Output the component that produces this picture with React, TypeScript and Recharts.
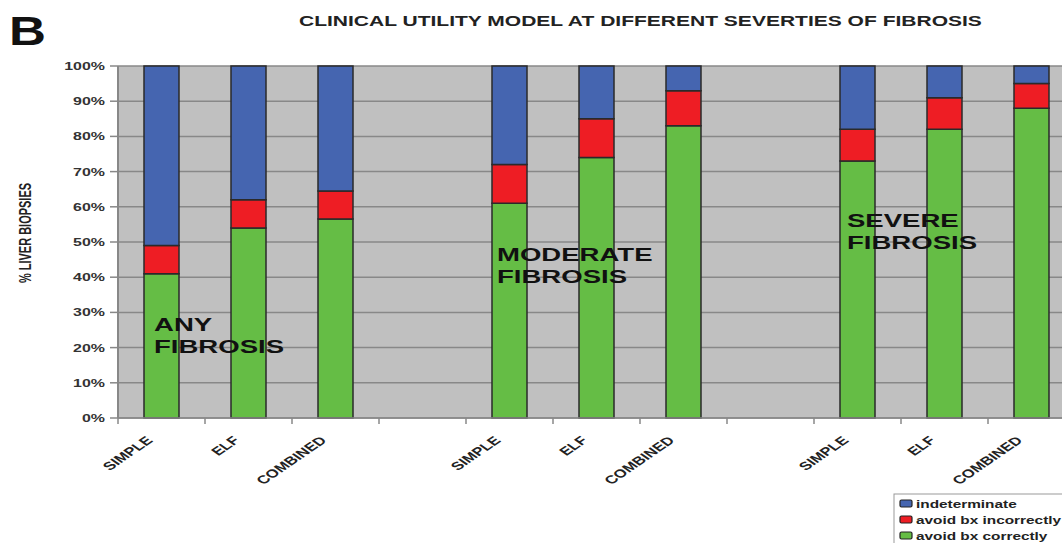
import { BarChart, Bar, XAxis, YAxis, CartesianGrid } from 'recharts';

// categories (blank slots separate the three fibrosis groups)
const categories = ['SIMPLE', 'ELF', 'COMBINED', '', 'SIMPLE', 'ELF', 'COMBINED', '', 'SIMPLE', 'ELF', 'COMBINED'];
const avoidCorrect = [41, 54, 56.5, null, 61, 74, 83, null, 73, 82, 88];
const avoidIncorrect = [8, 8, 8, null, 11, 11, 10, null, 9, 9, 7];
const indeterminate = [51, 38, 35.5, null, 28, 15, 7, null, 18, 9, 5];
const yTicks = [0, 10, 20, 30, 40, 50, 60, 70, 80, 90, 100];

const groupLabels = [
  { lines: ['ANY', 'FIBROSIS'], x: 154, y: 331 },
  { lines: ['MODERATE', 'FIBROSIS'], x: 497, y: 261 },
  { lines: ['SEVERE', 'FIBROSIS'], x: 847, y: 227 },
];

const series = [
  { key: 'indeterminate', name: 'indeterminate', color: '#4565b0' },
  { key: 'incorrect', name: 'avoid bx incorrectly', color: '#ee1d24' },
  { key: 'correct', name: 'avoid bx correctly', color: '#65bd45' },
];

const data = categories.map((c, i) => ({
  cat: c,
  correct: avoidCorrect[i],
  incorrect: avoidIncorrect[i],
  indeterminate: indeterminate[i],
}));

const FONT = '"Liberation Sans", Arial, sans-serif';
const STRETCH = 1.45; // the source figure is stretched sideways
const HALF_BAND = 43.5;

function SText({ x, y, size, anchor = 'start', rotate = 0, sx = STRETCH, fill = '#222', children }: any) {
  return (
    <text
      transform={`translate(${x},${y}) scale(${sx},1)${rotate ? ` rotate(${rotate})` : ''}`}
      fontFamily={FONT}
      fontWeight="bold"
      fontSize={size}
      textAnchor={anchor}
      fill={fill}
    >
      {children}
    </text>
  );
}

const YTick = ({ x, y, payload }: any) => (
  <SText x={x} y={y + 4} anchor="end" size={11} fill="#333">
    {payload.value}%
  </SText>
);

const XTick = ({ x, payload }: any) => (
  <g>
    <line x1={x - HALF_BAND} x2={x - HALF_BAND} y1={418} y2={424} stroke="#888" strokeWidth={1.5} />
    {payload.value && (
      <SText x={x - 8} y={441} rotate={-45} anchor="end" size={11.5} fill="#222">
        {payload.value}
      </SText>
    )}
  </g>
);

export default function App() {
  return (
    <div style={{ position: 'fixed', left: 0, top: 0, width: 1062, height: 543, overflow: 'hidden', background: '#fff' }}>
      <BarChart width={1075} height={543} data={data} margin={{ top: 66, right: 0, left: 0, bottom: 85 }}>
        <CartesianGrid vertical={false} fill="#c0c0c0" stroke="#888" strokeWidth={1.5} />
        <XAxis
          dataKey="cat"
          height={40}
          interval={0}
          tickLine={false}
          axisLine={{ stroke: '#888', strokeWidth: 1.5 }}
          tick={<XTick />}
        />
        <YAxis
          width={118}
          domain={[0, 100]}
          ticks={yTicks}
          tickSize={8}
          tickMargin={5}
          axisLine={{ stroke: '#888', strokeWidth: 2 }}
          tickLine={{ stroke: '#888', strokeWidth: 1.5 }}
          tick={<YTick />}
        />
        <Bar dataKey="correct" stackId="a" fill="#65bd45" stroke="#2a2a2a" strokeWidth={1.5} barSize={35} isAnimationActive={false} />
        <Bar dataKey="incorrect" stackId="a" fill="#ee1d24" stroke="#2a2a2a" strokeWidth={1.5} barSize={35} isAnimationActive={false} />
        <Bar dataKey="indeterminate" stackId="a" fill="#4565b0" stroke="#2a2a2a" strokeWidth={1.5} barSize={35} isAnimationActive={false} />
      </BarChart>

      <svg width={1062} height={543} style={{ position: 'absolute', left: 0, top: 0, pointerEvents: 'none' }}>
        <SText x={9} y={45} size={40} sx={1.28} fill="#111">B</SText>
        <SText x={299} y={26} size={14.5} fill="#222">
          CLINICAL UTILITY MODEL AT DIFFERENT SEVERTIES OF FIBROSIS
        </SText>
        <SText x={31} y={233} size={11} rotate={-90} anchor="middle" fill="#222">
          % LIVER BIOPSIES
        </SText>

        {groupLabels.map((g) =>
          g.lines.map((l, j) => (
            <SText key={g.x + l} x={g.x} y={g.y + j * 22} size={19} fill="#111">
              {l}
            </SText>
          ))
        )}

        {/* legend */}
        <rect x={894} y={494} width={200} height={80} fill="#fff" stroke="#999" strokeWidth={1} />
        {series.map((s, i) => (
          <g key={s.key}>
            <rect x={900} y={500 + i * 16} width={12} height={7} rx={1.5} fill={s.color} stroke="#222" strokeWidth={1.2} />
            <SText x={916} y={508 + i * 16} size={10.6} fill="#222">
              {s.name}
            </SText>
          </g>
        ))}
      </svg>
    </div>
  );
}
